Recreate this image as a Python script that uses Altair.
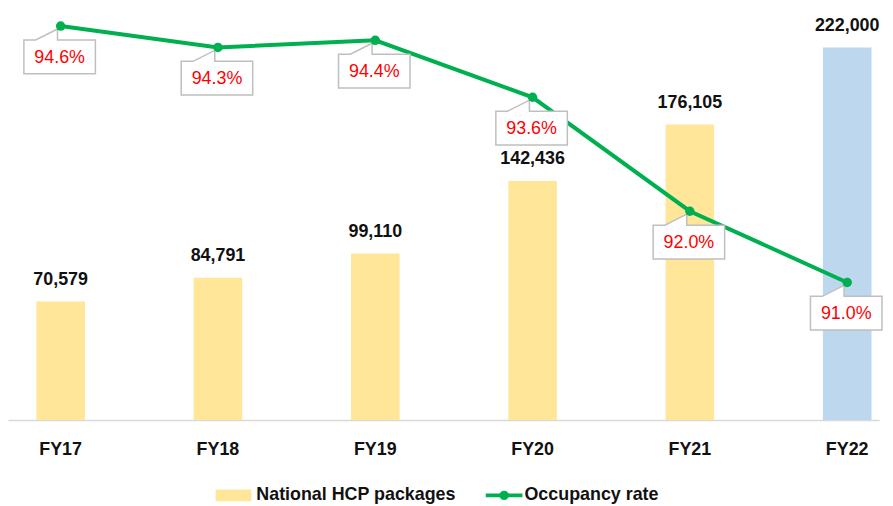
import altair as alt
import pandas as pd

years = ["FY17", "FY18", "FY19", "FY20", "FY21", "FY22"]
packages = [70579, 84791, 99110, 142436, 176105, 222000]
occupancy = [94.6, 94.3, 94.4, 93.6, 92.0, 91.0]
bar_colors = ["#FFE699", "#FFE699", "#FFE699", "#FFE699", "#FFE699", "#BDD7EE"]

legend_bar_label = ["National HCP packages"]
legend_line_label = ["Occupancy rate"]

FONT = "Liberation Sans, Arial, sans-serif"

df = pd.DataFrame({
    "year": years,
    "packages": packages,
    "occ": occupancy,
    "color": bar_colors,
})
df["pkg_label"] = df["packages"].map(lambda v: f"{v:,}")
df["occ_label"] = df["occ"].map(lambda v: f"{v:.1f}%")

xscale = alt.Scale(paddingInner=0.691, paddingOuter=0.114, align=0.79)
xenc = alt.X(
    "year:N", sort=years, scale=xscale, title=None,
    axis=alt.Axis(labelAngle=0, ticks=False, labelPadding=21, labelFontSize=18,
                  labelFontWeight="bold", labelColor="#111111", labelFont=FONT,
                  domainColor="#D9D9D9", domainWidth=1.5, grid=False),
)

ybar = alt.Y("packages:Q", scale=alt.Scale(domain=[0, 244500], nice=False, zero=True), axis=None)
yline = alt.Y("occ:Q", scale=alt.Scale(domain=[89.07, 94.83], nice=False, zero=False), axis=None)

base = alt.Chart(df)

bars = base.mark_bar().encode(x=xenc, y=ybar, color=alt.Color("color:N", scale=None))
bar_text = base.mark_text(baseline="middle", dy=-22, fontSize=18, fontWeight="bold",
                          font=FONT, color="#111111").encode(x=xenc, y=ybar, text="pkg_label:N")
bar_layer = alt.layer(bars, bar_text)

callout_path = "M-1,-0.472 L-0.67,-0.472 L-0.06,-0.78 L-0.06,-0.472 L1,-0.472 L1,0.472 L-1,0.472 Z"

line = base.mark_line(color="#00B050", strokeWidth=4).encode(x=xenc, y=yline)
boxes = base.mark_point(shape=callout_path, size=5184, filled=False, fill="#FFFFFF",
                        fillOpacity=1, stroke="#BFBFBF", strokeWidth=1.5, opacity=1,
                        yOffset=31, xOffset=-1).encode(x=xenc, y=yline)
box_text = base.mark_text(baseline="middle", yOffset=32, xOffset=-1, fontSize=18,
                          font=FONT, color="#FF0000").encode(x=xenc, y=yline, text="occ_label:N")
dots = base.mark_point(shape="circle", filled=True, size=90, color="#00B050",
                       opacity=1).encode(x=xenc, y=yline)
line_layer = alt.layer(line, boxes, box_text, dots)

leg_bar = pd.DataFrame({"label": legend_bar_label})
leg_line = pd.DataFrame({"label": legend_line_label})

leg_swatch = alt.Chart(leg_bar).mark_rect(color="#FFE699").encode(
    x=alt.value(209), x2=alt.value(245), y=alt.value(483), y2=alt.value(495))
leg_text1 = alt.Chart(leg_bar).mark_text(align="left", baseline="middle", fontSize=18,
                                         fontWeight="bold", font=FONT, color="#111111").encode(
    x=alt.value(250), y=alt.value(489), text="label:N")
leg_rule = alt.Chart(leg_line).mark_rule(color="#00B050", strokeWidth=4).encode(
    x=alt.value(481), x2=alt.value(518), y=alt.value(489))
leg_dot = alt.Chart(leg_line).mark_point(shape="circle", filled=True, size=90, color="#00B050",
                                         opacity=1).encode(x=alt.value(499.5), y=alt.value(489))
leg_text2 = alt.Chart(leg_line).mark_text(align="left", baseline="middle", fontSize=18,
                                          fontWeight="bold", font=FONT, color="#111111").encode(
    x=alt.value(520), y=alt.value(489), text="label:N")
legend = alt.layer(leg_swatch, leg_text1, leg_rule, leg_dot, leg_text2)

chart = alt.layer(bar_layer, line_layer, legend).resolve_scale(y="independent").properties(
    width=877, height=413, padding=0
).configure_view(stroke=None)

chart.save("out.html", embed_options={"renderer": "svg", "actions": False})
